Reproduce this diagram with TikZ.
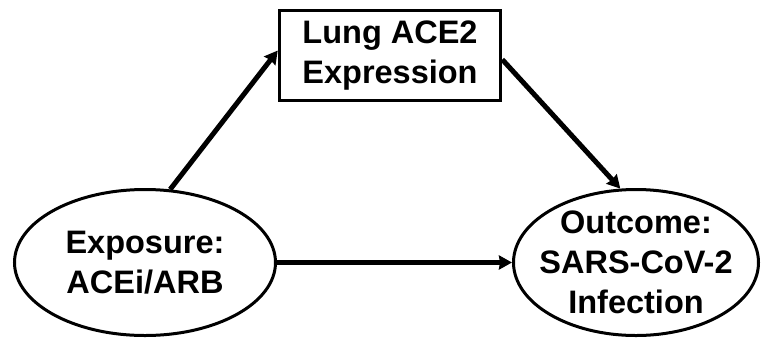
\documentclass[tikz,border=0pt]{standalone}
\usepackage{fontspec}
\setmainfont{Liberation Sans}
\usetikzlibrary{shapes.geometric,arrows.meta}
\begin{document}
\begin{tikzpicture}[x=1pt, y=-1pt, >={Stealth[length=13pt,width=14pt,inset=1pt]},
  txt/.style={align=center, inner sep=0pt, font=\fontsize{32.5}{40}\selectfont\bfseries},
  var/.style={ellipse, draw, line width=3pt, inner sep=0pt, minimum height=146pt},
  link/.style={->, line width=5pt}]
\useasboundingbox (0,0) rectangle (763,341);
\node[var, minimum width=261pt, label={[txt]center:Exposure:\\ACEi/ARB}] (expo) at (145,262.5) {};
\node[var, minimum width=245pt, label={[txt]center:Outcome:\\SARS-CoV-2\\Infection}] (outc) at (636,262.5) {};
\node[draw, line width=3.5pt, minimum width=221pt, minimum height=90pt, txt] (lung) at (390,55.5) {Lung ACE2\\Expression};
\draw[link] (expo.71) -- ([yshift=5pt]lung.west);
\draw[link] ([yshift=-4pt]lung.east) -- (outc.102);
\draw[link] (expo.east) -- (outc.west);
\end{tikzpicture}
\end{document}
